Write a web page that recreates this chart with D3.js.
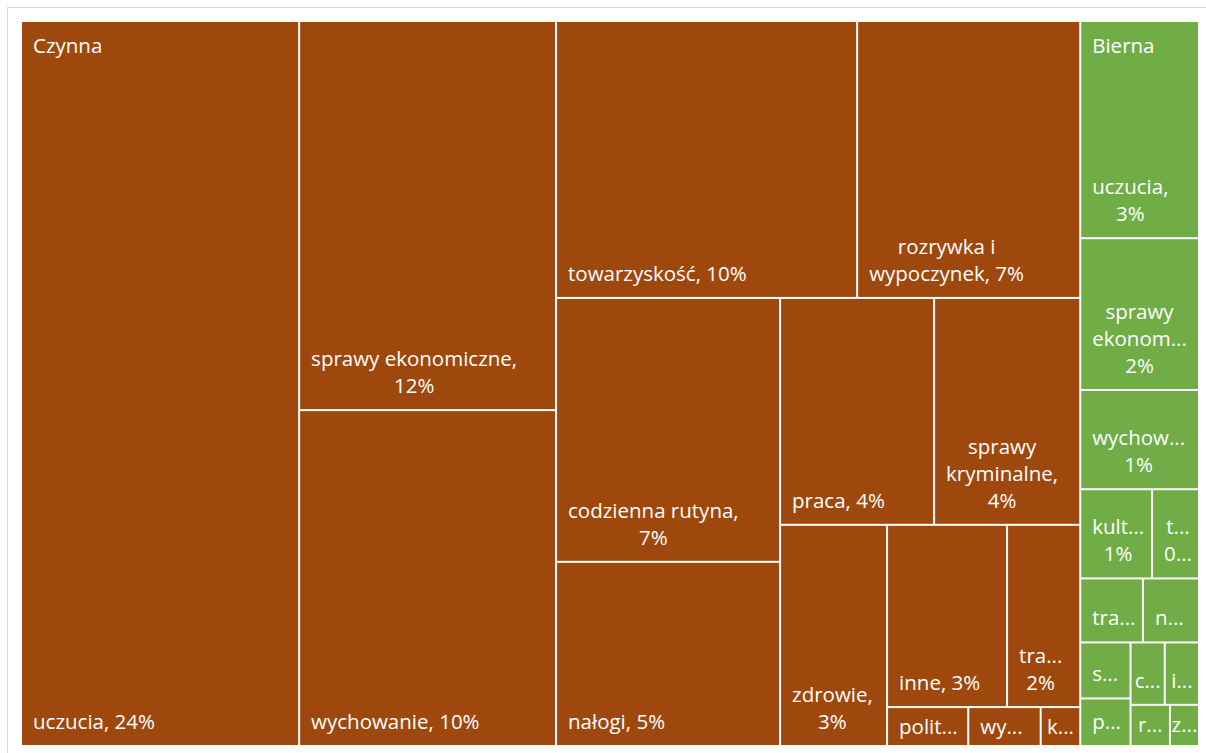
<!DOCTYPE html>
<html><head><meta charset="utf-8">
<script src="https://cdn.jsdelivr.net/npm/d3@7"></script>
<style>html,body{margin:0;padding:0;background:#fff;} svg{display:block;}</style>
</head><body>
<svg id="chart" width="1206" height="753"></svg>
<script>
// ---- data ----
const groups = ["Czynna", "Bierna"];
const groupColors = ["#9E480E", "#70AD47"];

const czynnaNames = ["uczucia", "sprawy ekonomiczne", "wychowanie", "towarzyskość", "rozrywka i wypoczynek",
  "codzienna rutyna", "nałogi", "praca", "sprawy kryminalne", "zdrowie", "inne", "tradycje",
  "polityka", "wypadki", "kultura"];
const czynnaValues = [23.6, 11.7, 10.1, 9.76, 7.23, 6.92, 4.83, 4.09, 3.88, 2.77, 2.56, 1.56, 0.37, 0.33, 0.18];

const biernaNames = ["uczucia", "sprawy ekonomiczne", "wychowanie", "kultura", "towarzyskość", "tradycje",
  "nałogi", "sprawy kryminalne", "praca", "codzienna rutyna", "inne", "rozrywka i wypoczynek", "zdrowie"];
const biernaValues = [3.02, 2.11, 1.38, 0.75, 0.49, 0.47, 0.42, 0.33, 0.28, 0.25, 0.25, 0.19, 0.14];

// number of tiles placed in each successive strip of the squarified layout
const czynnaRows = [1, 2, 2, 2, 2, 1, 2, 1, 1, 1];
const biernaRows = [1, 1, 1, 2, 2, 2, 2, 1, 1];

// ---- setup ----
const X0 = 22, Y0 = 22, X1 = 1198, Y1 = 745;
const FONT_SIZE = 20.5, FONT = `${FONT_SIZE}px 'Open Sans'`;
const LINE_H = 27, PAD = 11, BOTTOM = 16, WRAP_M = 22, TRUNC_M = 16.5;

const svg = d3.select("#chart");
svg.append("rect").attr("x", 7.5).attr("y", 7.5).attr("width", 1210).attr("height", 760)
  .attr("fill", "#fff").attr("stroke", "#d9d9d9").attr("stroke-width", 1);

const data = {name: "root", children: [
  {name: groups[0], color: groupColors[0], rows: czynnaRows,
    children: czynnaNames.map((n, i) => ({name: n, value: czynnaValues[i]}))},
  {name: groups[1], color: groupColors[1], rows: biernaRows,
    children: biernaNames.map((n, i) => ({name: n, value: biernaValues[i]}))}
]};

const root = d3.hierarchy(data).sum(d => d.value || 0).sort((a, b) => b.value - a.value);

function rowTile(parent, x0, y0, x1, y1) {
  const spec = parent.data.rows;
  if (!spec) return d3.treemapSquarify.ratio(1)(parent, x0, y0, x1, y1);
  const nodes = parent.children;
  let total = parent.value, i = 0;
  spec.forEach((k, idx) => {
    const row = {children: nodes.slice(i, i + k)};
    row.value = d3.sum(row.children, d => d.value);
    const dx = x1 - x0, dy = y1 - y0;
    const last = idx === spec.length - 1;
    if (dx < dy) {
      const ny = last ? y1 : y0 + dy * row.value / total;
      d3.treemapDice(row, x0, y0, x1, ny); y0 = ny;
    } else {
      const nx = last ? x1 : x0 + dx * row.value / total;
      d3.treemapSlice(row, x0, y0, nx, y1); x0 = nx;
    }
    total -= row.value; i += k;
  });
}

d3.treemap().tile(rowTile).size([X1 - X0, Y1 - Y0]).paddingInner(2).round(false)(root);

const g = svg.append("g").attr("transform", `translate(${X0},${Y0})`);
const fmt = d3.format(".0%");

const ctx = document.createElement("canvas").getContext("2d");
ctx.font = FONT;
const measure = s => ctx.measureText(s).width;

function fitWord(word, avail) {
  if (measure(word) <= avail) return word;
  for (let n = word.length - 1; n >= 1; n--) {
    const s = word.slice(0, n) + "...";
    if (measure(s) <= avail || n === 1) return s;
  }
  return word;
}
function layoutLabel(text, w, h) {
  const avail = w - WRAP_M, tavail = w - Math.max(TRUNC_M, 0.17 * w);
  const maxLines = Math.max(1, Math.floor((h - 10) / LINE_H));
  const words = text.split(" ");
  const lines = [];
  let cur = "";
  for (const wd of words) {
    if (cur) {
      const test = cur + " " + wd;
      if (measure(test) <= avail) { cur = test; continue; }
      lines.push(cur); cur = "";
    }
    if (measure(wd) <= avail) cur = wd; else lines.push(fitWord(wd, tavail));
  }
  if (cur) lines.push(cur);
  return lines.slice(0, maxLines);
}

const leaves = root.leaves();
const defs = svg.append("defs");
leaves.forEach((d, i) => {
  defs.append("clipPath").attr("id", "clip" + i).append("rect")
    .attr("x", d.x0).attr("y", d.y0).attr("width", d.x1 - d.x0).attr("height", d.y1 - d.y0);
});

const cell = g.selectAll("g.cell").data(leaves).join("g").attr("class", "cell");
cell.append("rect")
  .attr("x", d => d.x0).attr("y", d => d.y0)
  .attr("width", d => d.x1 - d.x0).attr("height", d => d.y1 - d.y0)
  .attr("fill", d => d.parent.data.color);

cell.each(function(d, i) {
  const w = d.x1 - d.x0, h = d.y1 - d.y0;
  const text = d.data.name + ", " + fmt(d.value / root.value);
  const lines = layoutLabel(text, w, h);
  const blockW = d3.max(lines, measure);
  const left = blockW <= w - TRUNC_M ? d.x0 + PAD : d.x0 + (w - blockW) / 2;
  const n = lines.length;
  const lastBase = Math.max(d.y1 - BOTTOM, d.y0 + h / 2 + (n - 1) * LINE_H / 2 + 7);
  const t = d3.select(this).append("text")
    .attr("clip-path", `url(#clip${i})`)
    .attr("font-family", "'Open Sans'").attr("font-size", FONT_SIZE)
    .attr("fill", "#fff").attr("text-anchor", "middle");
  lines.forEach((ln, j) => {
    t.append("tspan").attr("x", left + blockW / 2)
      .attr("y", lastBase - (n - 1 - j) * LINE_H).text(ln);
  });
});

// group labels
g.selectAll("text.group").data(root.children).join("text").attr("class", "group")
  .attr("x", d => d.x0 + PAD).attr("y", d => d.y0 + 31)
  .attr("font-family", "'Open Sans'").attr("font-size", FONT_SIZE).attr("fill", "#fff")
  .text(d => d.data.name);
</script>
</body></html>
